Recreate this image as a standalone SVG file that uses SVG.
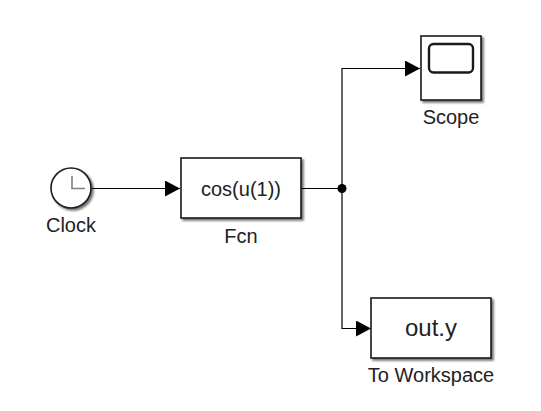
<svg xmlns="http://www.w3.org/2000/svg" width="541" height="411" viewBox="0 0 541 411">
<defs>
<filter id="sh" x="-20%" y="-20%" width="140%" height="140%"><feDropShadow dx="2" dy="2" stdDeviation="1.3" flood-color="#000" flood-opacity="0.55"/></filter>
<marker id="arr" markerUnits="userSpaceOnUse" markerWidth="16" markerHeight="16" refX="15" refY="8" orient="auto"><path d="M0 0L15 8L0 16Z" fill="#000"/></marker>
</defs>
<style>
.b{fill:#fff;stroke:#1a1a1a;stroke-width:1.6;filter:url(#sh)}
.w{fill:none;stroke:#000;stroke-width:1.2}
text{font-family:"Liberation Sans",Arial,sans-serif;fill:#222;text-anchor:middle}
.l{font-size:20px}
</style>
<rect width="541" height="411" fill="#fff"/>
<g id="connectors">
<path class="w" d="M92 188.5H180" marker-end="url(#arr)"/>
<path class="w" d="M302 188.5H342"/>
<path class="w" d="M342 188.5V68.5H420" marker-end="url(#arr)"/>
<path class="w" d="M342 188.5V328.5H371" marker-end="url(#arr)"/>
<circle cx="342" cy="188.5" r="4.5" fill="#000"/>
</g>
<g id="clock">
<circle class="b" cx="71" cy="188" r="20"/>
<path d="M72 176V188.5H85" fill="none" stroke="#808080" stroke-width="1.6"/>
<text class="l" x="71" y="232">Clock</text>
</g>
<g id="fcn">
<rect class="b" x="181" y="158" width="120" height="60"/>
<text x="241" y="196" font-size="20">cos(u(1))</text>
<text class="l" x="241" y="243">Fcn</text>
</g>
<g id="scope">
<rect class="b" x="421" y="36" width="60" height="64"/>
<rect x="429" y="44" width="44" height="28.500" rx="4.500" fill="none" stroke="#1a1a1a" stroke-width="2.400"/>
<text class="l" x="451" y="124">Scope</text>
</g>
<g id="toworkspace">
<rect class="b" x="371" y="298" width="120" height="60"/>
<text x="431" y="336" font-size="24">out.y</text>
<text class="l" x="431" y="382">To Workspace</text>
</g>
</svg>
